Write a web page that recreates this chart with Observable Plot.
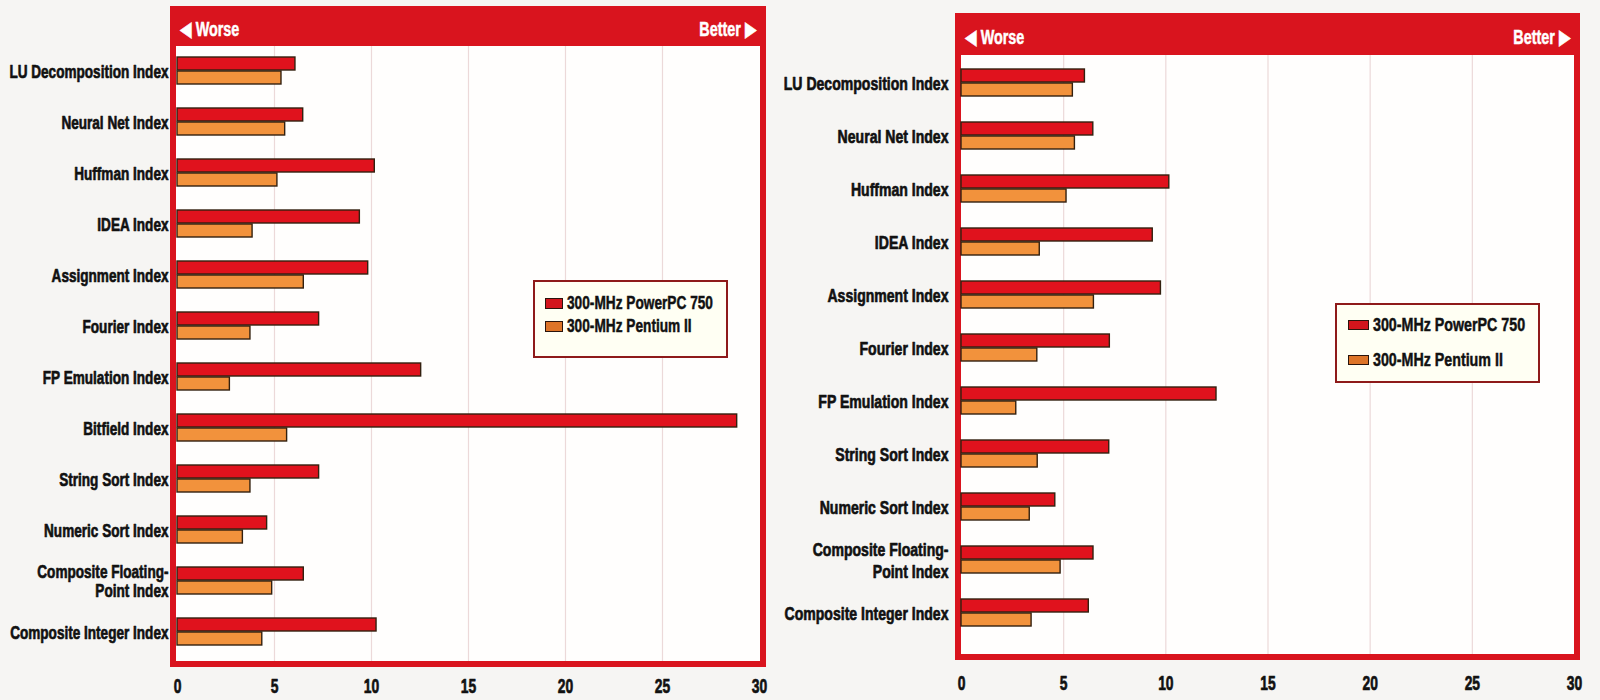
<!DOCTYPE html>
<html><head><meta charset="utf-8">
<script src="https://cdn.jsdelivr.net/npm/d3@7"></script>
<script src="https://cdn.jsdelivr.net/npm/@observablehq/plot@0.6"></script>
<style>
body{margin:0;background:#f6f5f3;width:1600px;height:700px;overflow:hidden;position:relative;
 font-family:'Liberation Sans',Arial,sans-serif;font-weight:bold;}
.panel{position:absolute;top:0;height:700px;}
.frame{position:absolute;box-sizing:border-box;border:6px solid #d9141e;background:#fffefd;}
.header{position:absolute;left:0;right:0;top:0;background:#d9141e;color:#fff;font-size:20px;-webkit-text-stroke:0.5px #fff;}
.header .hl,.header .hr{position:absolute;top:50%;white-space:nowrap;display:inline-block;}
.header .hl{transform:translateY(-50%) scaleX(0.72);transform-origin:left center;}
.header .hr{transform:translateY(-50%) scaleX(0.72);transform-origin:right center;}
.tri{font-family:'DejaVu Sans',sans-serif;font-size:21px;}
.layer{position:absolute;left:0;top:0;}
.legend{position:absolute;box-sizing:border-box;border:2px solid #8e1a1a;background:#fffff3;}
.legend .row{position:absolute;left:0;display:flex;align-items:center;color:#111;white-space:nowrap;transform:translateY(-50%);}
.legend .sw{display:inline-block;box-sizing:border-box;border:1.5px solid #2a140c;margin-right:4px;flex:none;}
.legend .lt{display:inline-block;font-size:19px;transform-origin:left center;-webkit-text-stroke:0.5px #111;}
</style></head>
<body>
<script>
// ---- data ----
const seriesNames = ["300-MHz PowerPC 750", "300-MHz Pentium II"];
const seriesColors = ["#e0121d", "#f2923c"];
const legendSwatchColors = ["#d3151c", "#dd7428"];
const xTicks = [0, 5, 10, 15, 20, 25, 30];
const gridTicks = [5, 10, 15, 20, 25];

const categoriesLeft = ["LU Decomposition Index", "Neural Net Index", "Huffman Index", "IDEA Index",
  "Assignment Index", "Fourier Index", "FP Emulation Index", "Bitfield Index", "String Sort Index",
  "Numeric Sort Index", "Composite Floating-Point Index", "Composite Integer Index"];
const powerpcLeft = [6.08, 6.48, 10.17, 9.40, 9.83, 7.30, 12.56, 28.85, 7.30, 4.62, 6.51, 10.26];
const pentiumLeft = [5.36, 5.55, 5.15, 3.87, 6.51, 3.76, 2.70, 5.65, 3.76, 3.37, 4.88, 4.37];

const categoriesRight = ["LU Decomposition Index", "Neural Net Index", "Huffman Index", "IDEA Index",
  "Assignment Index", "Fourier Index", "FP Emulation Index", "String Sort Index",
  "Numeric Sort Index", "Composite Floating-Point Index", "Composite Integer Index"];
const powerpcRight = [6.04, 6.45, 10.17, 9.36, 9.76, 7.26, 12.48, 7.23, 4.59, 6.46, 6.23];
const pentiumRight = [5.45, 5.55, 5.14, 3.83, 6.48, 3.71, 2.68, 3.73, 3.34, 4.85, 3.43];

const headerLeftText = "Worse";
const headerRightText = "Better";

// ---- layout ----
const panels = [
  {cats: categoriesLeft, a: powerpcLeft, b: pentiumLeft, left: 0, width: 790,
   mL: 177, mR: 31, mT: 46, mB: 39, pOuter: 0.235, align: 0.42, labelDx: -9, tickPad: 17, labelSx: 0.715, lh: 1.0,
   frame: {l: 170, t: 6, w: 596, h: 661, hh: 34, padL: 4, padR: 3},
   legend: {l: 533, t: 280, w: 195, h: 78, rows: [21, 44], swW: 18, swH: 11, padL: 10, sx: 0.72}},
  {cats: categoriesRight, a: powerpcRight, b: pentiumRight, left: 790, width: 810,
   mL: 171, mR: 26, mT: 55, mB: 46, pOuter: 0.2765, align: 0.33, labelDx: -13, tickPad: 21, labelSx: 0.74, lh: 1.18,
   frame: {l: 955, t: 13, w: 625, h: 647, hh: 36, padL: 4, padR: 3},
   legend: {l: 1335, t: 303, w: 205, h: 80, rows: [20, 55], swW: 21, swH: 10, padL: 11, sx: 0.75}}
];

const font = "'Liberation Sans',Arial,sans-serif";
const wrapLabel = d => d.replace("Floating-", "Floating-\n");

// horizontally condense SVG texts around their own anchor (emulates a heavy condensed typeface)
function condense(nodes, s) {
  for (const t of nodes) {
    const x = +(t.getAttribute("x") || 0);
    const tr = t.getAttribute("transform") || "";
    t.setAttribute("transform", `${tr} translate(${x},0) scale(${s},1) translate(${-x},0)`);
    t.setAttribute("stroke", "#111");
    t.setAttribute("stroke-width", "0.7");
    t.setAttribute("paint-order", "stroke");
    t.setAttribute("stroke-linejoin", "round");
  }
}

for (const p of panels) {
  // frame + header (HTML, behind the chart)
  const fr = document.createElement("div");
  fr.className = "frame";
  Object.assign(fr.style, {left: p.frame.l + "px", top: p.frame.t + "px", width: p.frame.w + "px", height: p.frame.h + "px"});
  const hd = document.createElement("div");
  hd.className = "header";
  hd.style.height = p.frame.hh + "px";
  hd.innerHTML = `<span class="hl" style="left:${p.frame.padL}px"><span class="tri">◀</span> ${headerLeftText}</span>` +
                 `<span class="hr" style="right:${p.frame.padR}px">${headerRightText} <span class="tri">▶</span></span>`;
  fr.appendChild(hd);
  document.body.appendChild(fr);

  const wrap = document.createElement("div");
  wrap.className = "panel";
  wrap.style.left = p.left + "px";
  wrap.style.width = p.width + "px";
  document.body.appendChild(wrap);

  const common = {width: p.width, height: 700, marginLeft: p.mL, marginRight: p.mR, marginTop: p.mT, marginBottom: p.mB};

  // underlay: grid + x axis
  const under = Plot.plot({
    ...common,
    style: {background: "transparent", fontFamily: font, fontSize: "21px", fontWeight: "bold", color: "#111", overflow: "visible"},
    x: {domain: [0, 30], ticks: xTicks, tickSize: 0, tickPadding: p.tickPad, label: null},
    marks: [Plot.ruleX(gridTicks, {stroke: "#ecd9d9", strokeWidth: 1.2})]
  });
  under.classList.add("layer");
  condense(under.querySelectorAll("text"), 0.66);
  wrap.appendChild(under);

  // overlay: grouped bars faceted by category
  const rows = p.cats.flatMap((c, i) => [
    {cat: c, series: seriesNames[0], value: p.a[i]},
    {cat: c, series: seriesNames[1], value: p.b[i]}
  ]);
  const over = Plot.plot({
    ...common,
    style: {background: "transparent", fontFamily: font, fontSize: "19px", fontWeight: "bold", color: "#111", overflow: "visible"},
    x: {domain: [0, 30], axis: null},
    y: {domain: seriesNames, axis: null, paddingInner: 0.06, paddingOuter: 0},
    fy: {domain: p.cats, axis: null, paddingInner: 0.46, paddingOuter: p.pOuter, align: p.align},
    color: {domain: seriesNames, range: seriesColors},
    facet: {data: rows, y: "cat", marginTop: 0, marginBottom: 0, marginLeft: 0, marginRight: 0},
    marks: [
      Plot.barX(rows, {x: "value", y: "series", fill: "series", stroke: "#33200f", strokeWidth: 1.4}),
      Plot.text(rows, {filter: d => d.series === seriesNames[0], text: d => wrapLabel(d.cat),
        frameAnchor: "left", textAnchor: "end", dx: p.labelDx, fill: "#111", lineHeight: p.lh})
    ]
  });
  over.classList.add("layer");
  condense(over.querySelectorAll("text"), p.labelSx);
  wrap.appendChild(over);

  // legend
  const lg = document.createElement("div");
  lg.className = "legend";
  Object.assign(lg.style, {left: p.legend.l + "px", top: p.legend.t + "px", width: p.legend.w + "px", height: p.legend.h + "px"});
  seriesNames.forEach((s, i) => {
    const r = document.createElement("div");
    r.className = "row";
    r.style.top = p.legend.rows[i] + "px";
    r.style.left = p.legend.padL + "px";
    r.innerHTML = `<span class="sw" style="width:${p.legend.swW}px;height:${p.legend.swH}px;background:${legendSwatchColors[i]}"></span>` +
                  `<span class="lt" style="transform:scaleX(${p.legend.sx})">${s}</span>`;
    lg.appendChild(r);
  });
  document.body.appendChild(lg);
}
</script>
</body></html>
